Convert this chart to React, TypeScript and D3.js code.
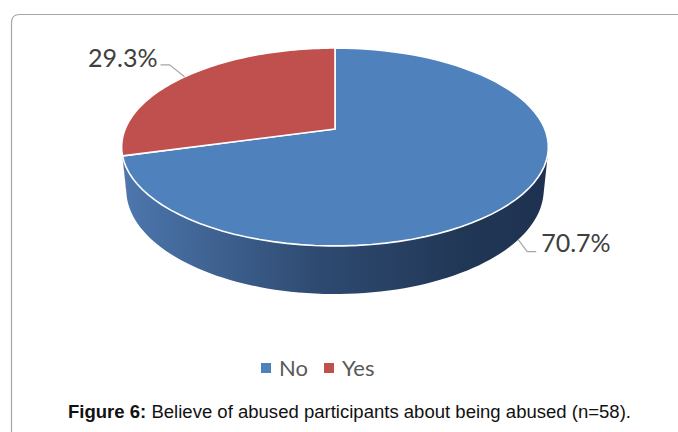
import React from "react";
import * as d3 from "d3";

// chart data
const categories = ["No", "Yes"];
const values = [70.7, 29.3];
const labels = ["70.7%", "29.3%"];
const topColors = ["#4f81bd", "#c0504d"];
const caption = "Believe of abused participants about being abused (n=58).";

const W = 678;
const H = 432;

// perspective projection of the tilted pie
const cx = 335;
const cy = 129;
const sinA = 0.456;
const cosA = 0.89;
const D = 4.9;
const f = 1028;
const depth = 0.23;

const proj = (theta: number, Y: number): [number, number] => {
  const X = Math.sin(theta);
  const Z = Math.cos(theta);
  const yc = Z * sinA + Y * cosA;
  const d = D + Z * cosA - Y * sinA;
  return [cx + (f * X) / d, cy - (f * yc) / d];
};

// side wall faces the camera where cos(theta) < -1 / (D * cosA)
const wallLimit = Math.acos(-1 / (D * cosA));

const samples = (a0: number, a1: number, n = 80) =>
  d3.range(n + 1).map((i) => a0 + ((a1 - a0) * i) / n);

const line = d3.line<[number, number]>();

const App = () => {
  const pie = d3
    .pie<number>()
    .sort(null)
    .startAngle(0)
    .endAngle(Math.PI * 2);
  const arcs = pie(values);

  const walls = arcs
    .map((a, i) => {
      const a0 = Math.max(a.startAngle, wallLimit);
      const a1 = Math.min(a.endAngle, Math.PI * 2 - wallLimit);
      if (a1 <= a0) return null;
      const top = samples(a0, a1).map((t) => proj(t, 0));
      const bottom = samples(a0, a1)
        .reverse()
        .map((t) => proj(t, -depth));
      return { i, d: line([...top, ...bottom]) + "Z" };
    })
    .filter(Boolean) as { i: number; d: string }[];

  const tops = arcs.map((a, i) => {
    const pts = [[cx, cy] as [number, number], ...samples(a.startAngle, a.endAngle).map((t) => proj(t, 0))];
    return { i, d: line(pts) + "Z" };
  });

  const labelMarks = arcs.map((a, i) => {
    const mid = (a.startAngle + a.endAngle) / 2;
    const front = Math.cos(mid) < 0;
    const anchor = proj(mid, front ? -depth : 0);
    const right = Math.sin(mid) > 0;
    const elbow: [number, number] = right
      ? [anchor[0] + 9, anchor[1] + 12]
      : [anchor[0] - 15, anchor[1] - 12];
    const end: [number, number] = [elbow[0] + (right ? 9 : -9), elbow[1]];
    return {
      i,
      path: line([anchor, elbow, end]) as string,
      x: end[0] + (right ? 5 : -3),
      y: end[1] + (right ? 0 : 2),
      anchor: right ? "start" : "end",
    };
  });

  const legendX = d3.scalePoint<string>().domain(categories).range([261, 324]);

  return (
    <svg
      width={W}
      height={H}
      style={{ position: "absolute", left: 0, top: 0, background: "#fff" }}
    >
      <defs>
        <linearGradient id="wallBlue" gradientUnits="userSpaceOnUse" x1={122} x2={548} y1={0} y2={0}>
          <stop offset="0" stopColor="#4d77ae" />
          <stop offset="0.45" stopColor="#2f4b72" />
          <stop offset="0.8" stopColor="#213756" />
          <stop offset="1" stopColor="#1f3150" />
        </linearGradient>
        <linearGradient id="wallRed" gradientUnits="userSpaceOnUse" x1={122} x2={548} y1={0} y2={0}>
          <stop offset="0" stopColor="#a8403d" />
          <stop offset="1" stopColor="#5a2221" />
        </linearGradient>
      </defs>
      <path
        d="M11.5,700 V22.5 Q11.5,14.5 19.5,14.5 H700"
        fill="none"
        stroke="#a6a6a6"
        strokeWidth={1.2}
      />
      {walls.map((w) => (
        <path key={`w${w.i}`} d={w.d} fill={w.i === 0 ? "url(#wallBlue)" : "url(#wallRed)"} />
      ))}
      {tops.map((t) => (
        <path
          key={`t${t.i}`}
          d={t.d}
          fill={topColors[t.i]}
          stroke="#ffffff"
          strokeWidth={1.6}
          strokeLinejoin="round"
        />
      ))}
      {labelMarks.map((l) => (
        <g key={`l${l.i}`}>
          <path d={l.path} fill="none" stroke="#a6a6a6" strokeWidth={1.2} />
          <text
            x={l.x}
            y={l.y}
            textAnchor={l.anchor}
            fontFamily="Lato, 'Open Sans', sans-serif"
            fontSize={25}
            fill="#404040"
          >
            {labels[l.i]}
          </text>
        </g>
      ))}
      {categories.map((c, i) => (
        <g key={c} transform={`translate(${legendX(c)},363)`}>
          <rect width={10} height={10} fill={topColors[i]} />
          <text x={18} y={13} fontFamily="Lato, 'Open Sans', sans-serif" fontSize={22} fill="#595959">
            {c}
          </text>
        </g>
      ))}
      <text
        x={68}
        y={418}
        fontFamily="'Liberation Sans', Arial, sans-serif"
        fontSize={17.5}
        fill="#111"
        textLength={563}
        lengthAdjust="spacingAndGlyphs"
      >
        <tspan fontWeight="bold">Figure 6:</tspan> {caption}
      </text>
    </svg>
  );
};

export default App;
